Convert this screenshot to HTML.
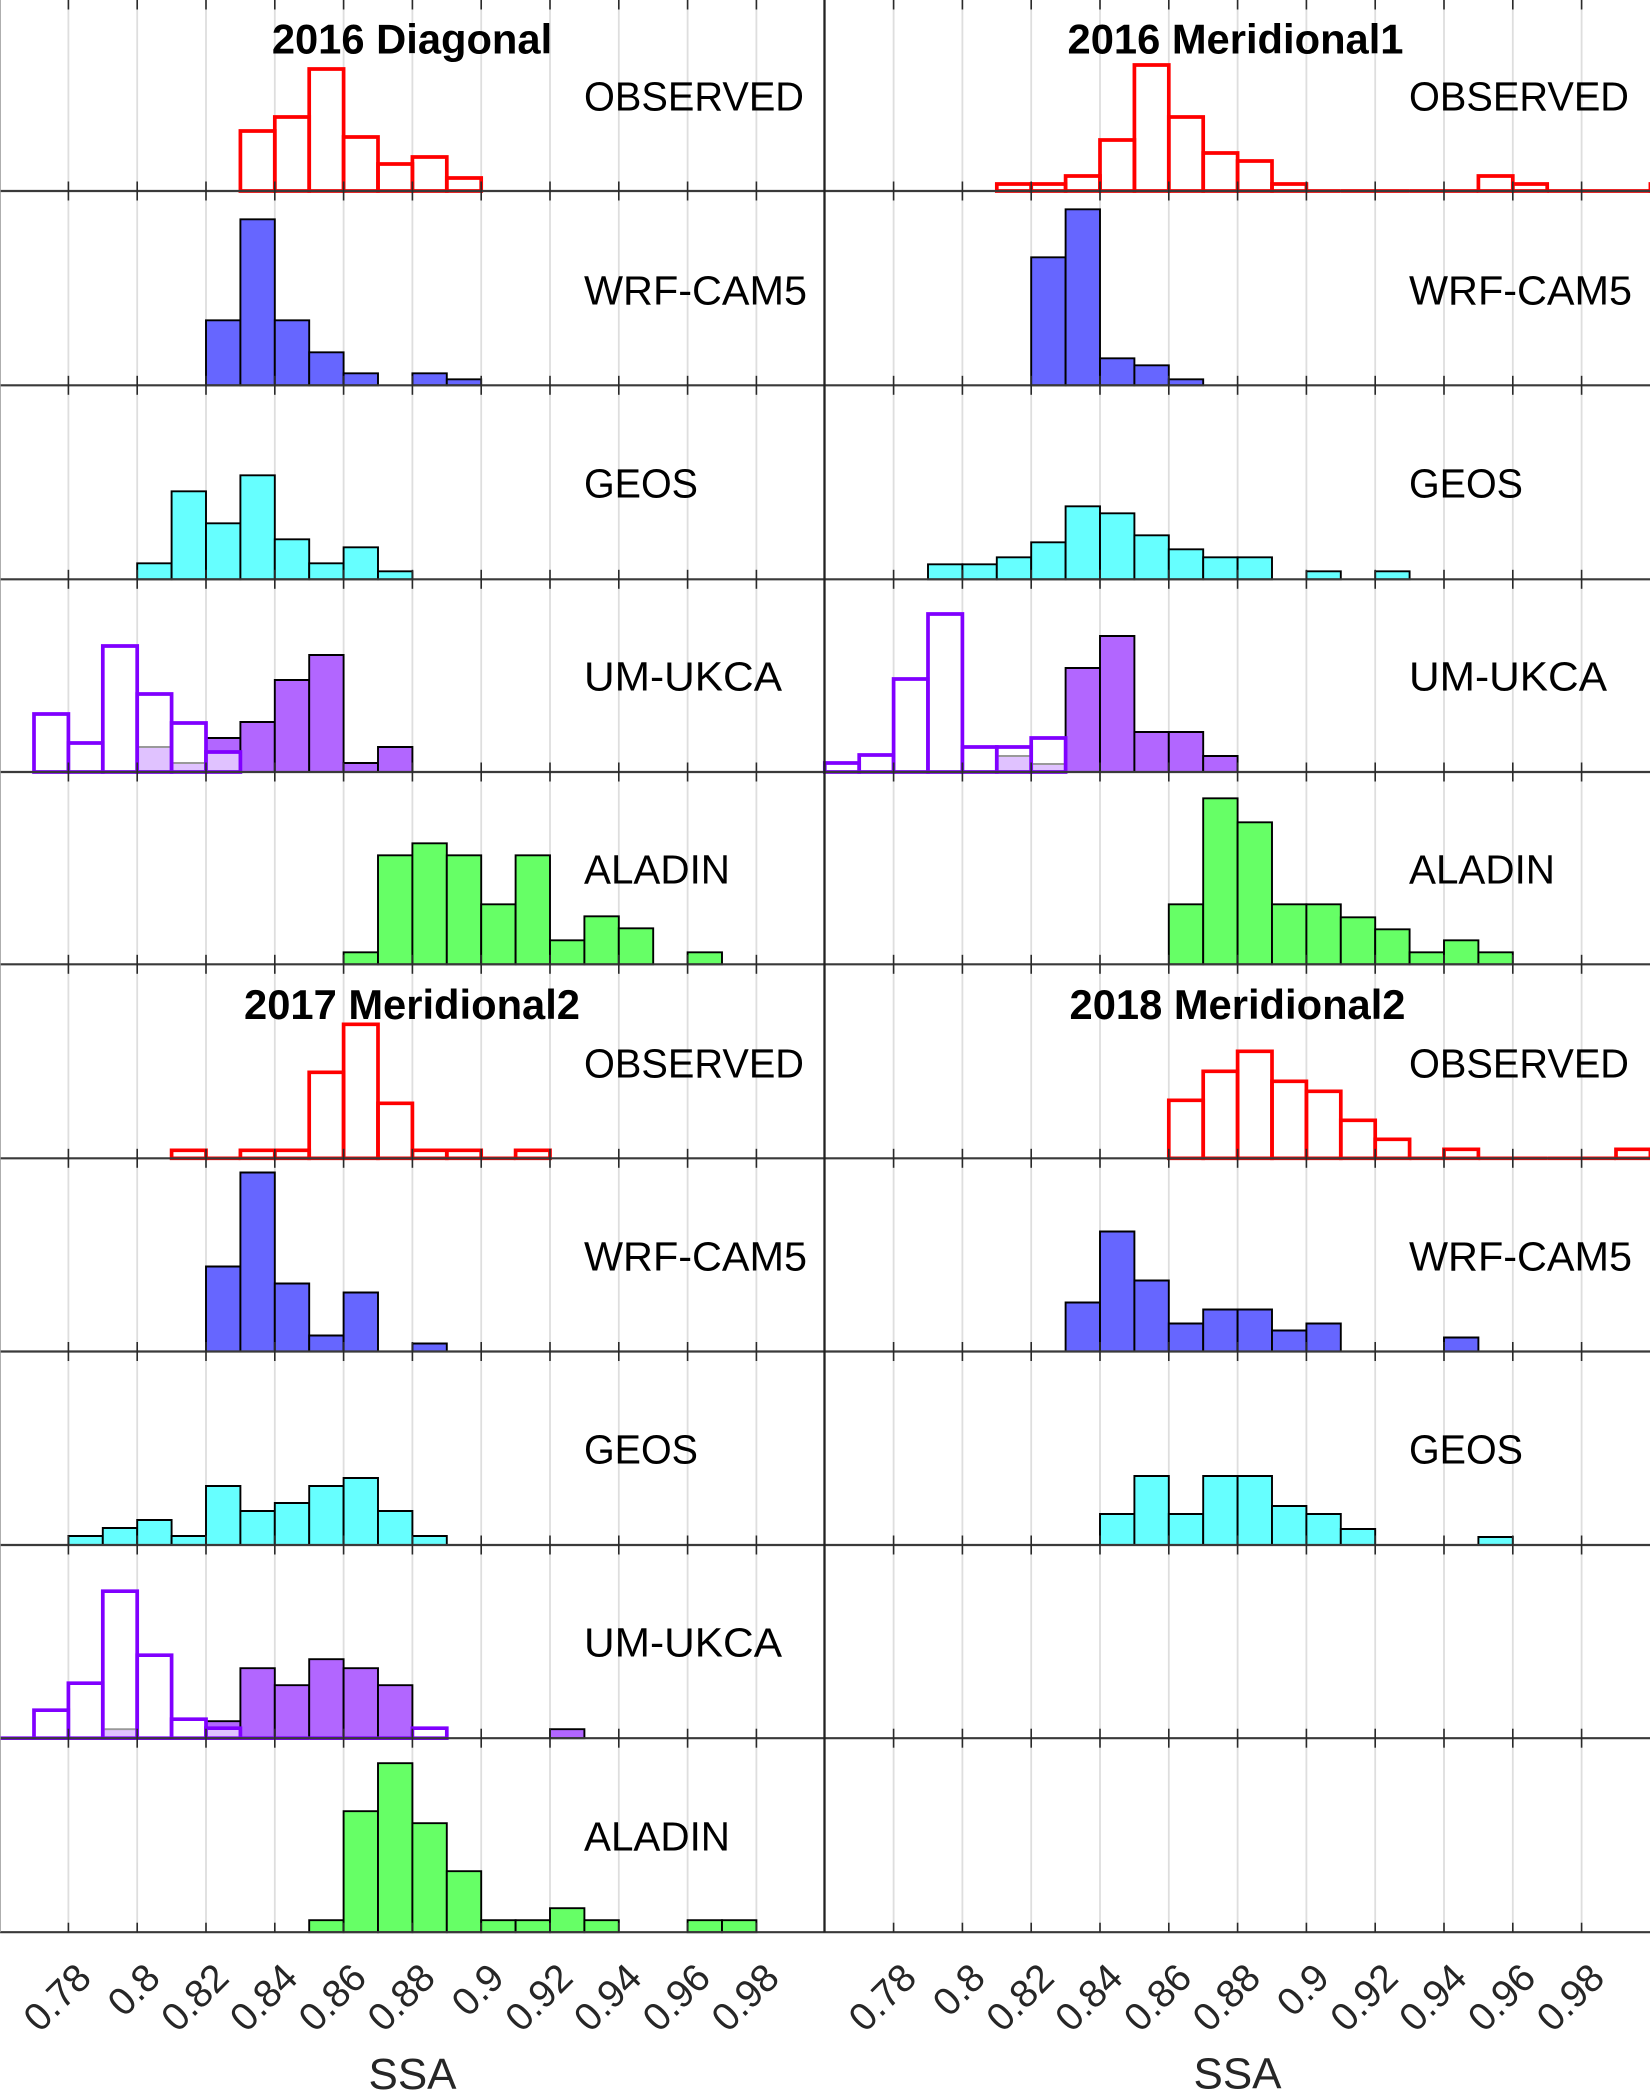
<!DOCTYPE html>
<html lang="en">
<head>
<meta charset="utf-8">
<title>SSA histograms</title>
<style>
html,body{margin:0;padding:0;background:#fff;}
svg{display:block;}
text{font-family:"Liberation Sans",sans-serif;}
.title{font-size:41.7px;font-weight:bold;text-anchor:middle;fill:#000;}
.lab{font-size:40.5px;fill:#000;}
.xl{font-size:44px;fill:#262626;text-anchor:middle;}
.tick{font-size:39px;fill:#262626;text-anchor:end;}
</style>
</head>
<body>
<svg id="chart" xmlns="http://www.w3.org/2000/svg" width="1650" height="2099" viewBox="0 0 1650 2099">
<rect x="0" y="0" width="1650" height="2099" fill="#fff"/>
<g id="grid"></g>
<g id="bars"></g>
<g id="axes"></g>
<g id="ticklabels"></g>

<text class="title" x="412" y="53.5">2016 Diagonal</text>
<text class="title" x="1235.5" y="53.5">2016 Meridional1</text>
<text class="title" x="412" y="1019">2017 Meridional2</text>
<text class="title" x="1237.5" y="1019">2018 Meridional2</text>

<text class="lab" x="584" y="110.7" textLength="220" lengthAdjust="spacingAndGlyphs">OBSERVED</text>
<text class="lab" x="584" y="304.3" textLength="223" lengthAdjust="spacingAndGlyphs">WRF-CAM5</text>
<text class="lab" x="584" y="497.3" textLength="114" lengthAdjust="spacingAndGlyphs">GEOS</text>
<text class="lab" x="584" y="690.7" textLength="198" lengthAdjust="spacingAndGlyphs">UM-UKCA</text>
<text class="lab" x="584" y="883.3" textLength="146" lengthAdjust="spacingAndGlyphs">ALADIN</text>
<text class="lab" x="1409" y="110.7" textLength="220" lengthAdjust="spacingAndGlyphs">OBSERVED</text>
<text class="lab" x="1409" y="304.3" textLength="223" lengthAdjust="spacingAndGlyphs">WRF-CAM5</text>
<text class="lab" x="1409" y="497.3" textLength="114" lengthAdjust="spacingAndGlyphs">GEOS</text>
<text class="lab" x="1409" y="690.7" textLength="198" lengthAdjust="spacingAndGlyphs">UM-UKCA</text>
<text class="lab" x="1409" y="883.3" textLength="146" lengthAdjust="spacingAndGlyphs">ALADIN</text>

<text class="lab" x="584" y="1077.3" textLength="220" lengthAdjust="spacingAndGlyphs">OBSERVED</text>
<text class="lab" x="584" y="1270.7" textLength="223" lengthAdjust="spacingAndGlyphs">WRF-CAM5</text>
<text class="lab" x="584" y="1463.5" textLength="114" lengthAdjust="spacingAndGlyphs">GEOS</text>
<text class="lab" x="584" y="1656.7" textLength="198" lengthAdjust="spacingAndGlyphs">UM-UKCA</text>
<text class="lab" x="584" y="1850.7" textLength="146" lengthAdjust="spacingAndGlyphs">ALADIN</text>
<text class="lab" x="1409" y="1077.3" textLength="220" lengthAdjust="spacingAndGlyphs">OBSERVED</text>
<text class="lab" x="1409" y="1270.7" textLength="223" lengthAdjust="spacingAndGlyphs">WRF-CAM5</text>
<text class="lab" x="1409" y="1463.5" textLength="114" lengthAdjust="spacingAndGlyphs">GEOS</text>

<text class="xl" x="412.5" y="2089">SSA</text>
<text class="xl" x="1237.5" y="2088.5">SSA</text>
</svg>

<script>
// Axis ticks
const tickValues = [0.78, 0.80, 0.82, 0.84, 0.86, 0.88, 0.90, 0.92, 0.94, 0.96, 0.98];
const tickLabels = ['0.78', '0.8', '0.82', '0.84', '0.86', '0.88', '0.9', '0.92', '0.94', '0.96', '0.98'];
const binWidth = 0.01;

// 2016 Diagonal (relative frequency per 0.01 bin)
const diag16Observed = [30, 37, 61, 27, 13.5, 17, 6.5];
const diag16Wrf = [32.5, 83, 32.5, 16.5, 6, 0, 6, 3];
const diag16Geos = [8, 44, 28, 52, 20, 8, 16, 4];
const diag16Um = [12.5, 4.5, 17, 25, 46, 58.5, 4.5, 12.5];
const diag16UmAlt = [29, 14.5, 63, 39, 24.5, 10];
const diag16Aladin = [6, 54.5, 60.5, 54.5, 30, 54.5, 12, 24, 18, 0, 6];

// 2016 Meridional1
const mer16Observed = [3.5, 3.5, 7.5, 25.5, 63, 37, 19, 15, 3.5, 0, 0, 0, 0, 0, 7.5, 3.5, 0, 0, 0, 3.5];
const mer16Wrf = [64, 88, 13.5, 10, 3];
const mer16Geos = [7.5, 7.5, 11, 18.5, 36.5, 33, 22, 15, 11, 11, 0, 4, 0, 4];
const mer16Um = [8, 4, 52, 68, 20, 20, 8];
const mer16UmAlt = [4.5, 8.5, 46.5, 79, 12.5, 12.5, 17];
const mer16Aladin = [30, 83, 71, 30, 30, 23.5, 17.5, 6, 12, 6];

// 2017 Meridional2
const mer17Observed = [4, 0, 4, 4, 43, 67, 27.5, 4, 4, 0, 4];
const mer17Wrf = [42.5, 89.5, 34, 8, 29.5, 0, 4];
const mer17Geos = [4.5, 8.5, 12.5, 4.5, 29.5, 17, 21, 29.5, 33.5, 17, 4.5];
const mer17Um = [4.5, 0, 0, 8.5, 35, 26.5, 39.5, 35, 26.5, 0, 0, 0, 0, 4.5];
const mer17UmAlt = [0, 14, 27.5, 73.5, 41.5, 9.5, 5, 0, 0, 0, 0, 0, 5];
const mer17Aladin = [6, 60.5, 84.5, 54.5, 30.5, 6, 6, 12, 6, 0, 0, 6, 6];

// 2018 Meridional2
const mer18Observed = [29, 43.5, 53.5, 38.5, 33.5, 19, 9.5, 0, 4.5, 0, 0, 0, 0, 4.5];
const mer18Wrf = [24.5, 60, 35.5, 14, 21, 21, 10.5, 14, 0, 0, 0, 7];
const mer18Geos = [15.5, 34.5, 15.5, 34.5, 34.5, 19.5, 15.5, 8, 0, 0, 0, 4];

// Layout
const SVGNS = 'http://www.w3.org/2000/svg';
const rowBottoms = [191, 385.3, 579.3, 772, 964.3, 1158.3, 1351.5, 1545, 1738.2, 1932.2];
const columnOrigin = [68.4, 893.6];
const columnStart = [0, 824.5];
const xPerUnit = 3440;
const yPerUnit = 2;

const styles = {
  observed: {fill: 'none', stroke: '#ff0000', width: 3.7},
  wrf: {fill: '#6666ff', stroke: '#000', width: 1.9},
  geos: {fill: '#66ffff', stroke: '#000', width: 1.9},
  um: {fill: '#b266ff', stroke: '#000', width: 1.9},
  umAlt: {fill: 'rgba(255,255,255,0.6)', stroke: '#8000ff', width: 3.7},
  aladin: {fill: '#66ff66', stroke: '#000', width: 1.9}
};

function xScale(col, v) {
  return columnOrigin[col] + (v - 0.78) * xPerUnit;
}
function yScale(row, v) {
  return rowBottoms[row] - v * yPerUnit;
}

const barsGroup = document.getElementById('bars');
const gridGroup = document.getElementById('grid');
const axesGroup = document.getElementById('axes');
const labelsGroup = document.getElementById('ticklabels');

function plotHist(col, row, firstBin, values, styleName) {
  const st = styles[styleName];
  values.forEach(function (v, i) {
    if (v === 0 && st.stroke === '#000') return;
    const x0 = xScale(col, firstBin + i * binWidth);
    const x1 = xScale(col, firstBin + (i + 1) * binWidth);
    const yb = yScale(row, 0);
    const yt = yScale(row, v);
    const el = document.createElementNS(SVGNS, 'path');
    el.setAttribute('d', 'M' + x0 + ' ' + yb + 'V' + yt + 'H' + x1 + 'V' + yb + 'Z');
    el.setAttribute('fill', st.fill);
    el.setAttribute('stroke', st.stroke);
    el.setAttribute('stroke-width', st.width);
    el.setAttribute('stroke-linejoin', 'miter');
    
    
    barsGroup.appendChild(el);
  });
}

function line(parent, x1, y1, x2, y2, color, width, name) {
  const el = document.createElementNS(SVGNS, 'line');
  el.setAttribute('x1', x1);
  el.setAttribute('y1', y1);
  el.setAttribute('x2', x2);
  el.setAttribute('y2', y2);
  el.setAttribute('stroke', color);
  el.setAttribute('stroke-width', width);
  
  
  parent.appendChild(el);
}

// Grid
[0, 1].forEach(function (col) {
  tickValues.forEach(function (t) {
    const x = xScale(col, t);
    line(gridGroup, x, 0, x, rowBottoms[9], '#dedede', 1.8, 'grid-line');
  });
});

// Bars
plotHist(0, 0, 0.83, diag16Observed, 'observed');
plotHist(0, 1, 0.82, diag16Wrf, 'wrf');
plotHist(0, 2, 0.80, diag16Geos, 'geos');
plotHist(0, 3, 0.80, diag16Um, 'um');
plotHist(0, 3, 0.77, diag16UmAlt, 'umAlt');
plotHist(0, 4, 0.86, diag16Aladin, 'aladin');

plotHist(1, 0, 0.81, mer16Observed, 'observed');
plotHist(1, 1, 0.82, mer16Wrf, 'wrf');
plotHist(1, 2, 0.79, mer16Geos, 'geos');
plotHist(1, 3, 0.81, mer16Um, 'um');
plotHist(1, 3, 0.76, mer16UmAlt, 'umAlt');
plotHist(1, 4, 0.86, mer16Aladin, 'aladin');

plotHist(0, 5, 0.81, mer17Observed, 'observed');
plotHist(0, 6, 0.82, mer17Wrf, 'wrf');
plotHist(0, 7, 0.78, mer17Geos, 'geos');
plotHist(0, 8, 0.79, mer17Um, 'um');
plotHist(0, 8, 0.76, mer17UmAlt, 'umAlt');
plotHist(0, 9, 0.85, mer17Aladin, 'aladin');

plotHist(1, 5, 0.86, mer18Observed, 'observed');
plotHist(1, 6, 0.83, mer18Wrf, 'wrf');
plotHist(1, 7, 0.84, mer18Geos, 'geos');

// Axes and ticks
rowBottoms.forEach(function (yb, r) {
  line(axesGroup, 0, yb, 1650, yb, '#3a3a3a', 2.2, 'panel-axis-line');
  [0, 1].forEach(function (col) {
    tickValues.forEach(function (t) {
      const x = xScale(col, t);
      line(axesGroup, x, yb - 9.5, x, r === 9 ? yb : yb + 9.5, '#2a2a2a', 1.6, 'axis-tick');
      if (r === 0) {
        line(axesGroup, x, 0, x, 9.5, '#2a2a2a', 1.6, 'axis-tick');
      }
    });
  });
});
line(axesGroup, columnStart[1], 0, columnStart[1], rowBottoms[9], '#222222', 2.3, 'column-divider');
line(axesGroup, 0.4, 0, 0.4, rowBottoms[9], '#9a9a9a', 0.8, 'left-edge');

// Tick labels
[0, 1].forEach(function (col) {
  tickValues.forEach(function (t, i) {
    const xe = xScale(col, t) + 25;
    const ye = 1980;
    const el = document.createElementNS(SVGNS, 'text');
    el.setAttribute('class', 'tick');
    el.setAttribute('x', xe);
    el.setAttribute('y', ye);
    el.setAttribute('transform', 'rotate(-45 ' + xe + ' ' + ye + ')');
    
    
    el.textContent = tickLabels[i];
    labelsGroup.appendChild(el);
  });
});
</script>
</body>
</html>
